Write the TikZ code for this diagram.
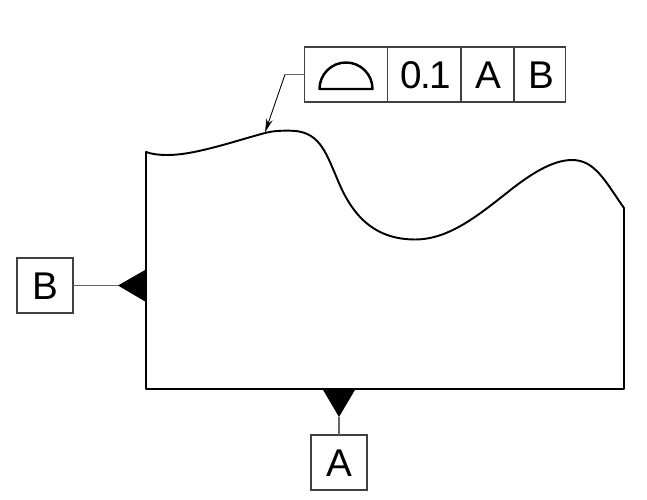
\documentclass[tikz,border=0pt]{standalone}
\usepackage{fontspec}
\setmainfont{Liberation Sans}
\usetikzlibrary{arrows.meta}

\begin{document}
\begin{tikzpicture}[
    x=0.02cm, y=-0.02cm,
    every node/.style={draw=black!75, line width=0.6pt, inner sep=0pt, outer sep=0pt, minimum height=1.1cm,
        font=\fontsize{22}{24}\selectfont, text height=16pt, text depth=0pt},
    datumbox/.style={minimum width=1.12cm},
    leader/.style={draw=black!60, line width=0.8pt},
    outline/.style={line width=1.1pt},
]
\useasboundingbox (0,0) rectangle (647,500);

\node (symcell) at (346.3,74.5) [minimum width=1.66cm] {};
\node (tolcell) at (424.3,74.5) [minimum width=1.46cm] {\hspace*{2pt}0\kern-1pt.\kern-1pt1};
\node (refa) at (487.5,74.5) [minimum width=1.06cm] {\hspace*{1pt}A};
\node (refb) at (539.7,74.5) [minimum width=1.02cm] {\hspace*{2pt}B};

\node (datumb) at (45,285.5) [datumbox] {B};
\node (datuma) at (339,462.5) [datumbox] {A};

\coordinate (bend) at (285,74.5);
\coordinate (surface) at (265,132.5);
\coordinate (tipb) at (118,285.5);
\coordinate (tipa) at (339,417);

% part outline
\draw[outline, line join=round] (146,152)
    .. controls (153,154.5) and (160,155) .. (168,155)
    .. controls (195,155) and (235,141) .. (265,133)
    .. controls (275,130.5) and (282,130.7) .. (290,130.7)
    .. controls (318,130.7) and (325,150) .. (336,176)
    .. controls (347,203) and (365,239.5) .. (415,239.5)
    .. controls (450,239.5) and (480,214) .. (513,188)
    .. controls (530,175) and (552,160) .. (572,160)
    .. controls (595,160) and (605,181) .. (624,208)
    -- (624,389) -- (146,389) -- cycle;

% dome symbol
\draw[line width=1.4pt, line join=round] (319.5,89) arc (180:360:26.5 and 26.5) -- cycle;

% leader
\draw[leader] (symcell.west) -- (bend);
\draw[-{Stealth[length=14*0.02cm, width=6.5*0.02cm]}, line width=0.5pt] (bend) -- (surface);

% datum flags
\draw[leader] (datumb) -- (tipb);
\draw[leader] (datuma) -- (tipa);
\fill (tipb) -- (146,269.5) -- (146,302) -- cycle;
\fill (tipa) -- (322.5,389) -- (355.5,389) -- cycle;

\end{tikzpicture}
\end{document}
